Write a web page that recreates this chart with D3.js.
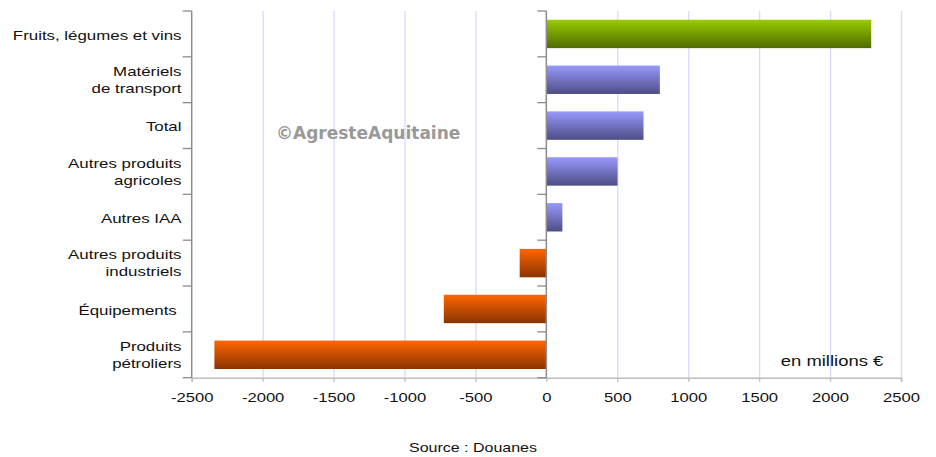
<!DOCTYPE html>
<html><head><meta charset="utf-8">
<script src="https://cdn.jsdelivr.net/npm/d3@7"></script>
<style>body{margin:0;background:#fff}svg{display:block}text{font-family:"Liberation Sans",Arial,sans-serif;white-space:pre}</style>
</head><body><svg id="c" width="936" height="457"></svg>
<script>
const categories = [["Fruits, légumes et vins"],["Matériels","de transport"],["Total"],["Autres produits","agricoles"],["Autres IAA"],["Autres produits","industriels"],["Équipements "],["Produits","pétroliers"]];
const values = [2290, 800, 685, 502, 113, -188, -723, -2340];
const groups = ["green","blue","blue","blue","blue","orange","orange","orange"];
const xTicks = [-2500,-2000,-1500,-1000,-500,0,500,1000,1500,2000,2500];

const SX = 1.23; // horizontal stretch of the reference text
const svg = d3.select("#c");
const L = 191.7, R = 901, T = 11, B = 377.7;
const x = d3.scaleLinear().domain([-2500,2500]).range([L,R]);
const y = d3.scaleBand().domain(d3.range(categories.length)).range([T,B]).paddingInner(0.38).paddingOuter(0.19);
const yb = d3.scaleBand().domain(d3.range(categories.length)).range([T,B]);

const defs = svg.append("defs");
const grads = {green:["#99cc00","#4f6b00"], blue:["#9999ff","#4d4d85"], orange:["#ff6600","#8a3300"]};
Object.entries(grads).forEach(([k,c])=>{
  const g = defs.append("linearGradient").attr("id","g-"+k).attr("x1",0).attr("y1",0).attr("x2",0).attr("y2",1);
  g.append("stop").attr("offset","0%").attr("stop-color",c[0]);
  g.append("stop").attr("offset","100%").attr("stop-color",c[1]);
});

// gridlines
svg.append("g").selectAll("line").data(xTicks.filter(t=>t!==-2500 && t!==0)).join("line")
  .attr("x1",d=>x(d)+0.5).attr("x2",d=>x(d)+0.5).attr("y1",T).attr("y2",B)
  .attr("stroke","#d8d8ff").attr("stroke-width",1.3);

// bottom axis
const xa = svg.append("g").attr("transform",`translate(0,${B})`)
  .call(d3.axisBottom(x).tickValues(xTicks).tickSize(4).tickFormat(d=>String(d)));
xa.select(".domain").attr("stroke","#bdbdbd").attr("stroke-width",1.5);
xa.selectAll(".tick line").attr("stroke","#bdbdbd").attr("stroke-width",1.3);
xa.selectAll("text").attr("font-size",13.5).attr("fill","#111").attr("y",24).attr("dy",null)
  .attr("transform",`scale(${SX},1)`)
  .style("font-family",'"Liberation Sans",Arial,sans-serif');

// bars
svg.append("g").selectAll("rect").data(values).join("rect")
  .attr("x",d=>x(Math.min(0,d))).attr("width",d=>Math.abs(x(d)-x(0)))
  .attr("y",(d,i)=>y(i)).attr("height",y.bandwidth())
  .attr("fill",(d,i)=>`url(#g-${groups[i]})`);

// left axis and zero axis
const bounds = d3.range(categories.length+1).map(i=>T+i*yb.step());
[L, x(0)].forEach(px=>{
  const g = svg.append("g");
  g.append("line").attr("x1",px).attr("x2",px).attr("y1",T).attr("y2",B).attr("stroke","#8c8c8c").attr("stroke-width",1.5);
  g.selectAll("line.t").data(bounds).join("line").attr("class","t")
    .attr("x1",px-9).attr("x2",px).attr("y1",d=>d).attr("y2",d=>d).attr("stroke","#8c8c8c").attr("stroke-width",1.3);
});

// category labels
const lab = svg.append("g").selectAll("text").data(categories).join("text")
  .attr("text-anchor","end").attr("font-size",13.5).attr("fill","#111")
  .attr("transform",`translate(181.5,0) scale(${SX+0.02},1)`);
lab.each(function(lines,i){
  const cy = yb(i)+yb.bandwidth()/2;
  const lh = 17;
  const off = lines.length>1 ? 4.8 : 5.8;
  lines.forEach((s,j)=>{
    d3.select(this).append("tspan").attr("x",0).attr("y",cy + (j-(lines.length-1)/2)*lh + off).text(s);
  });
});

// watermark
svg.append("text").attr("x",276).attr("y",139).attr("font-size",17).attr("font-weight","bold")
  .attr("fill","#999999").style("font-family",'"DejaVu Sans",Verdana,sans-serif').text("©AgresteAquitaine");

svg.append("text").attr("transform",`translate(832,365.5) scale(${SX},1)`).attr("text-anchor","middle").attr("font-size",15).attr("fill","#111").text("en millions €");
svg.append("text").attr("transform",`translate(473,451.5) scale(${SX},1)`).attr("text-anchor","middle").attr("font-size",13).attr("fill","#111").text("Source : Douanes");
</script></body></html>
